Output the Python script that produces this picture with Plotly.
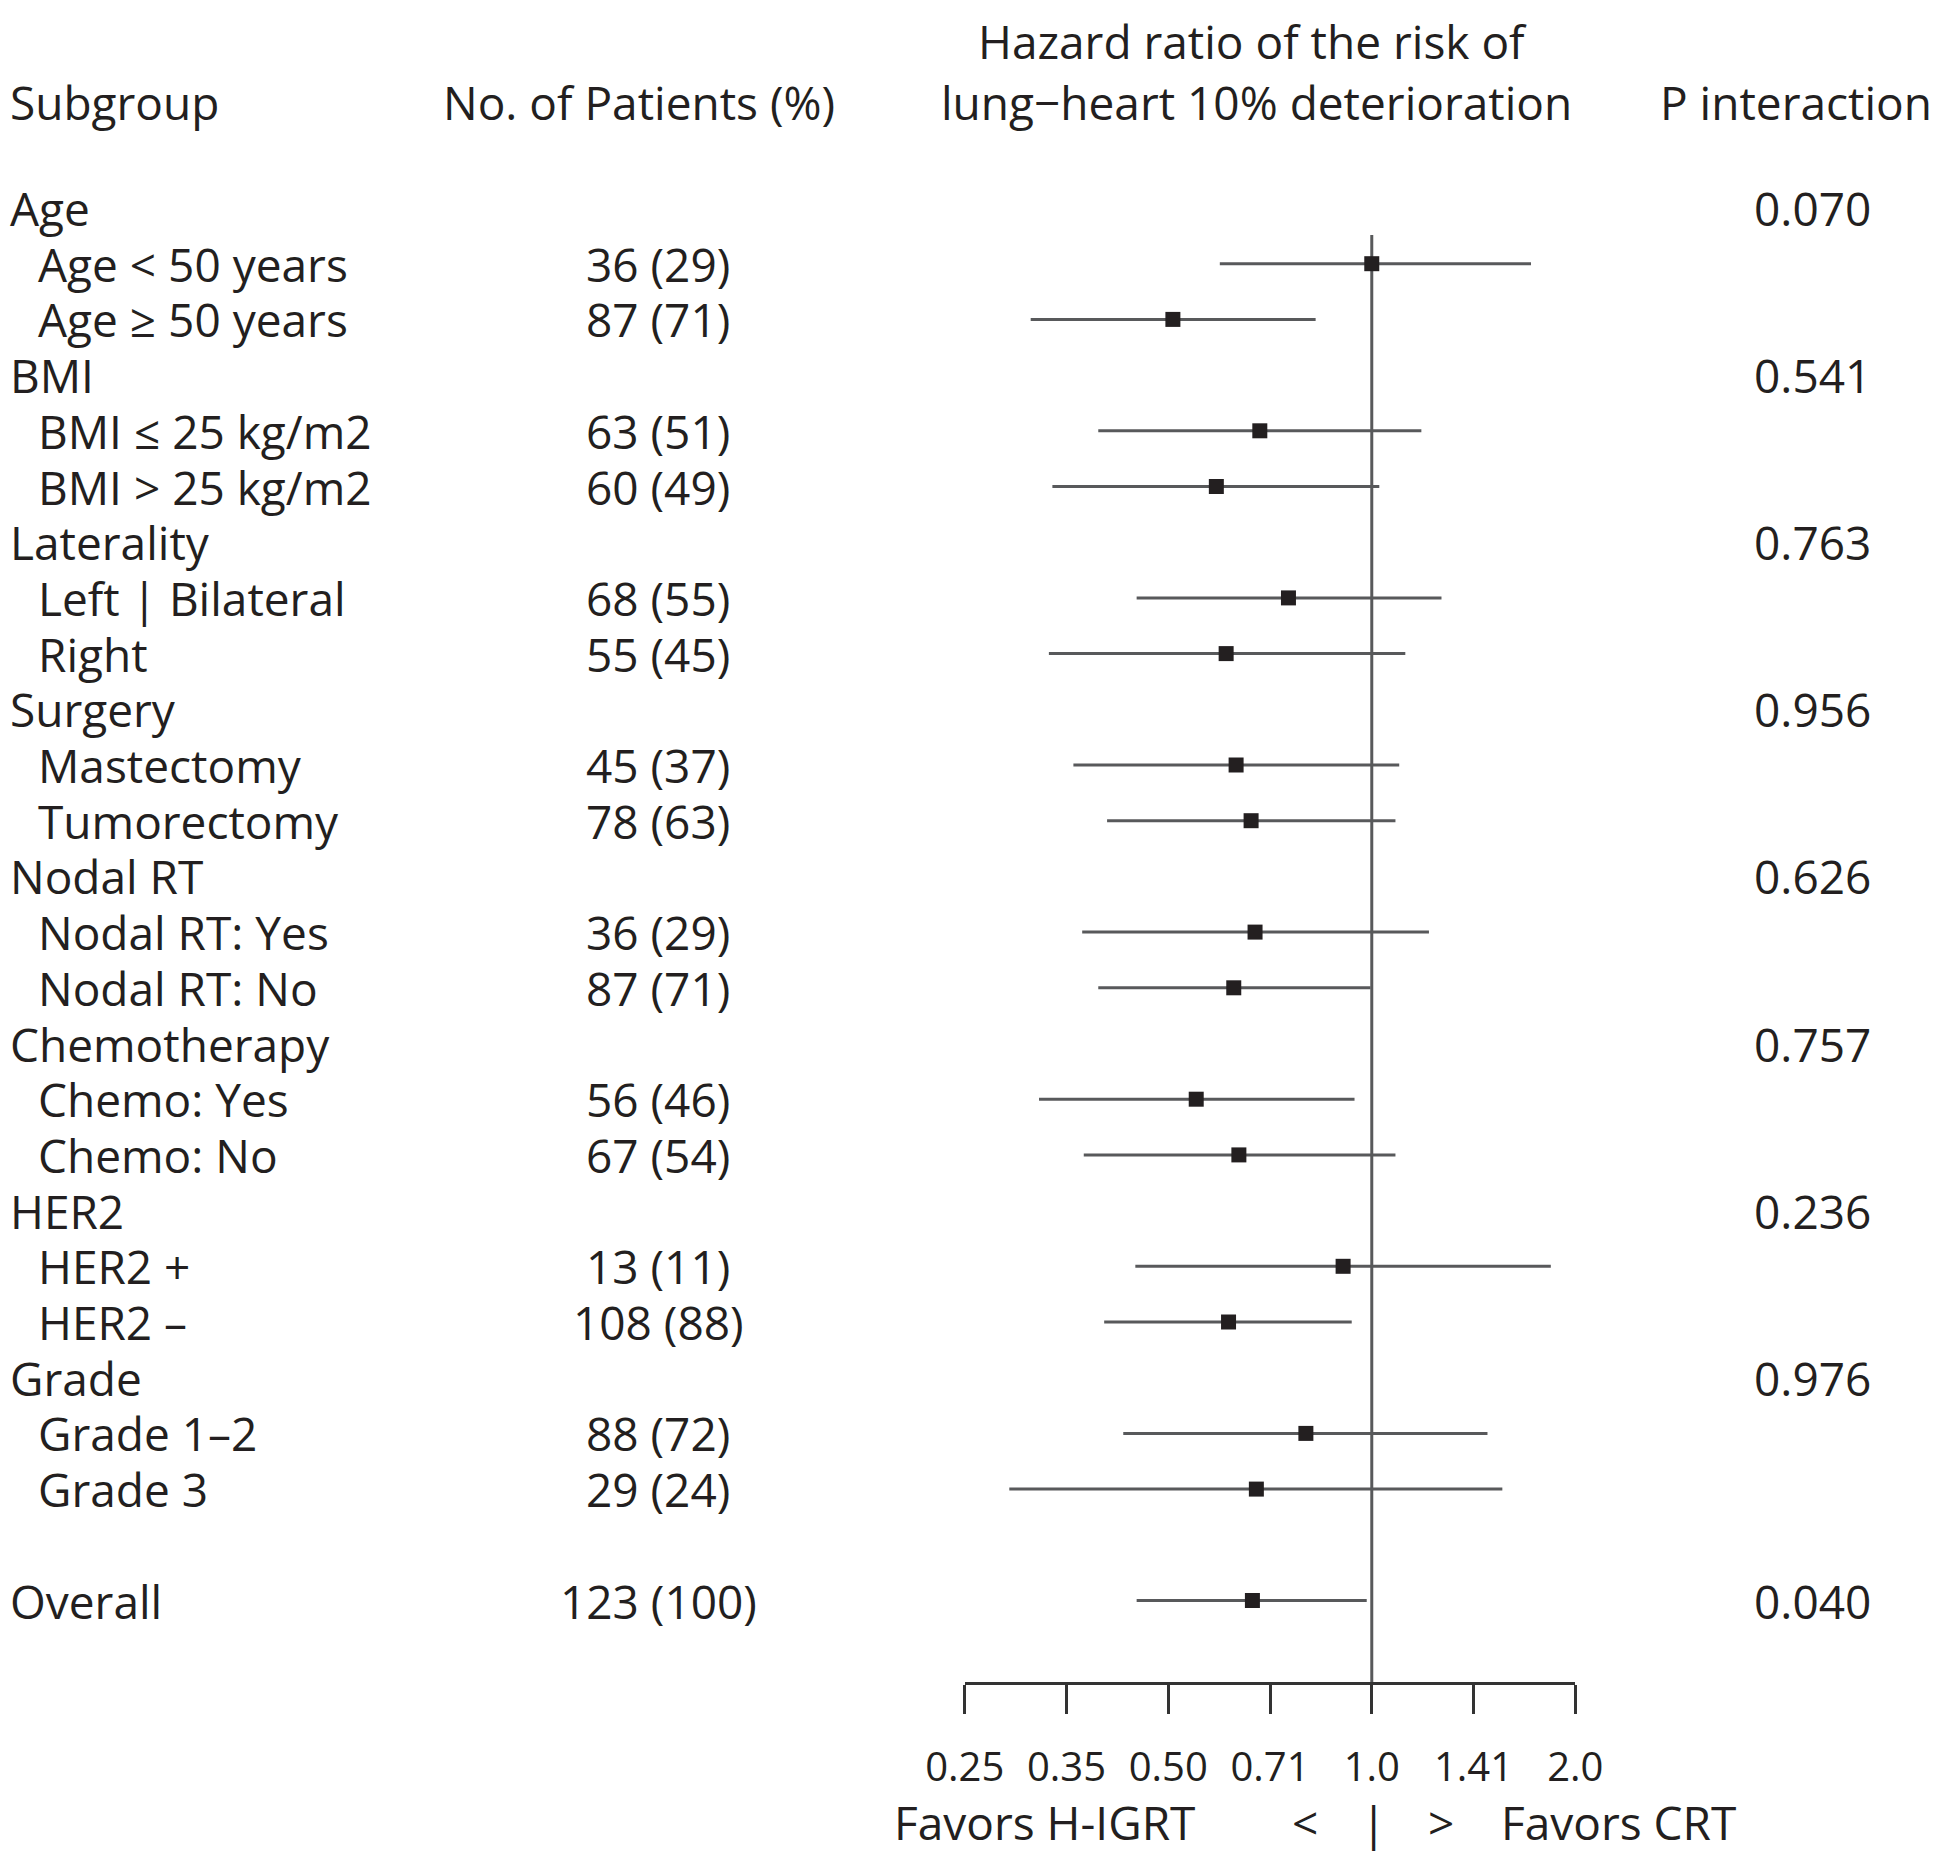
import plotly.graph_objects as go

# rows of the forest plot, top to bottom (row 24 left empty before Overall)
labels = ["Age", "Age < 50 years", "Age ≥ 50 years",
          "BMI", "BMI ≤ 25 kg/m2", "BMI > 25 kg/m2",
          "Laterality", "Left | Bilateral", "Right",
          "Surgery", "Mastectomy", "Tumorectomy",
          "Nodal RT", "Nodal RT: Yes", "Nodal RT: No",
          "Chemotherapy", "Chemo: Yes", "Chemo: No",
          "HER2", "HER2 +", "HER2 –",
          "Grade", "Grade 1–2", "Grade 3",
          "Overall"]
row_pos = list(range(24)) + [25]
is_group = [True, False, False] * 8 + [True]

patients = ["", "36 (29)", "87 (71)", "", "63 (51)", "60 (49)",
            "", "68 (55)", "55 (45)", "", "45 (37)", "78 (63)",
            "", "36 (29)", "87 (71)", "", "56 (46)", "67 (54)",
            "", "13 (11)", "108 (88)", "", "88 (72)", "29 (24)",
            "123 (100)"]
p_inter = ["0.070", "", "", "0.541", "", "", "0.763", "", "",
           "0.956", "", "", "0.626", "", "", "0.757", "", "",
           "0.236", "", "", "0.976", "", "", "0.040"]

hr = [None, 1.00, 0.508, None, 0.683, 0.589, None, 0.753, 0.609,
      None, 0.630, 0.663, None, 0.672, 0.625, None, 0.550, 0.636,
      None, 0.907, 0.614, None, 0.799, 0.675, 0.666]
ci_lo = [None, 0.596, 0.313, None, 0.394, 0.337, None, 0.449, 0.333,
         None, 0.362, 0.406, None, 0.373, 0.394, None, 0.322, 0.375,
         None, 0.447, 0.402, None, 0.429, 0.291, 0.449]
ci_hi = [None, 1.72, 0.826, None, 1.184, 1.026, None, 1.268, 1.121,
         None, 1.098, 1.084, None, 1.215, 0.996, None, 0.943, 1.084,
         None, 1.84, 0.934, None, 1.483, 1.56, 0.983]

tick_vals = [0.25, 0.3536, 0.5, 0.7071, 1.0, 1.4142, 2.0]
tick_text = ["0.25", "0.35", "0.50", "0.71", "1.0", "1.41", "2.0"]

# page body adds an 8px margin, so the figure is made that much smaller
OFF = 8
W, H = 1940 - OFF, 1866 - OFF
FONT = "Open Sans"
TXT = "#231f20"
GREY = "#58595b"

ROW0, STEP = 208 - OFF, 55.7   # pixel y of first row and row spacing


def fx(px):
    return (px - OFF) / W


def fy(py):
    return 1 - (py - OFF) / H


fig = go.Figure()

# confidence intervals
xs, ys = [], []
for y, lo, hi in zip(row_pos, ci_lo, ci_hi):
    if lo is None:
        continue
    xs += [lo, hi, None]
    ys += [y, y, None]
fig.add_trace(go.Scatter(x=xs, y=ys, mode="lines",
                         line=dict(color=GREY, width=3), hoverinfo="skip"))

# reference line at HR = 1
fig.add_trace(go.Scatter(x=[1, 1], y=[0.485, 26.48], mode="lines",
                         line=dict(color=GREY, width=3), hoverinfo="skip"))

# point estimates
fig.add_trace(go.Scatter(
    x=[v for v in hr if v is not None],
    y=[p for p, v in zip(row_pos, hr) if v is not None],
    mode="markers",
    marker=dict(symbol="square", size=15, color=TXT)))

ann = []


def txt(x, y, s, anchor="left", size=46, yref="y", yanchor="middle"):
    ann.append(dict(x=fx(x), y=y, xref="paper", yref=yref, text=s,
                    showarrow=False, xanchor=anchor, yanchor=yanchor,
                    font=dict(family=FONT, size=size, color=TXT)))


# headers
txt(8, -1.9, "Subgroup")
txt(639, -1.9, "No. of Patients (%)", "center")
txt(1252, 1, "Hazard ratio of the risk of", "center", yref="paper", yanchor="top")
txt(1256, -1.9, "lung−heart 10% deterioration", "center")
txt(1934, -1.9, "P interaction", "right")

for lab, pos, grp, n, p in zip(labels, row_pos, is_group, patients, p_inter):
    txt(8 if grp else 36, pos, lab)
    if n:
        txt(658, pos, n, "center")
    if p:
        txt(1812, pos, p, "center")

# favours line under the axis
yf = fy(1822)
txt(1197, yf, "Favors H-IGRT", "right", yref="paper")
txt(1305, yf, "<", "center", yref="paper")
txt(1373, yf, "|", "center", yref="paper")
txt(1441, yf, ">", "center", yref="paper")
txt(1499, yf, "Favors CRT", "left", yref="paper")

fig.update_layout(
    width=W, height=H,
    margin=dict(l=0, r=0, t=0, b=0, pad=0, autoexpand=False),
    paper_bgcolor="white", plot_bgcolor="white",
    showlegend=False,
    annotations=ann,
    xaxis=dict(type="log", range=[-0.60206, 0.30103],
               domain=[fx(964.7), fx(1575.3)],
               anchor="free", position=fy(1683),
               automargin=False,
               showgrid=False, zeroline=False,
               showline=True, linecolor="#333333", linewidth=3,
               ticks="outside", ticklen=29, tickwidth=3, tickcolor="#333333",
               tickvals=tick_vals, ticktext=tick_text,
               ticklabelstandoff=19,
               tickfont=dict(family=FONT, size=40, color=TXT)),
    yaxis=dict(range=[(H - ROW0) / STEP, -ROW0 / STEP], autorange=False,
               visible=False, automargin=False, domain=[0, 1]),
)

fig.write_html("out.html")
